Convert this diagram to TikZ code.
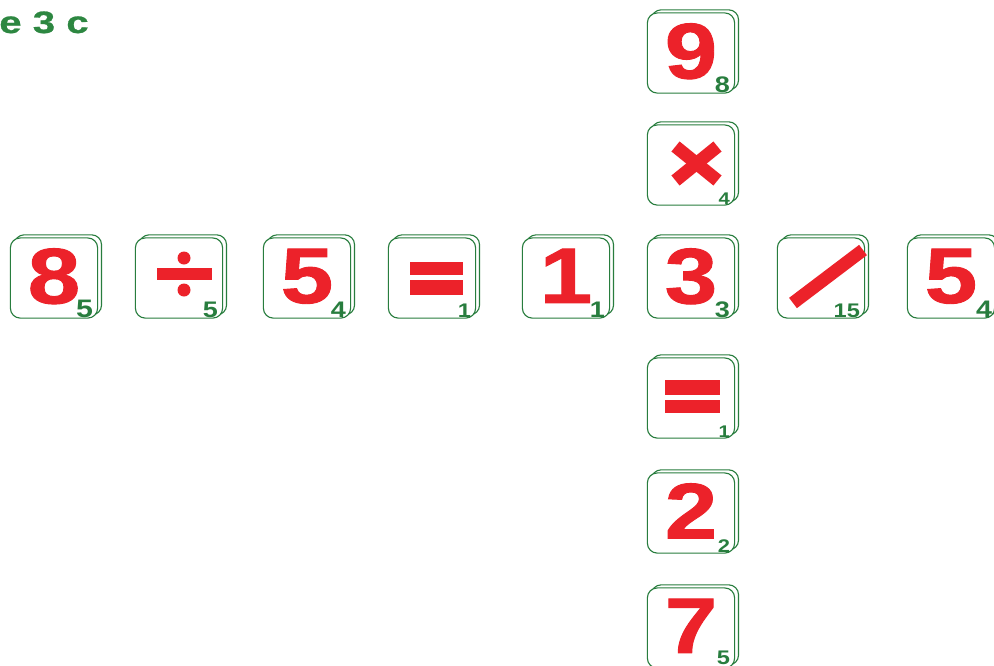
\documentclass[tikz,border=0pt]{standalone}
\usepackage{fontspec}
\setmainfont{Liberation Sans}
\newfontfamily\tilefont{Liberation Sans}[FakeStretch=1.2, FakeBold=1.2]
\newfontfamily\subfont{Liberation Sans}[FakeStretch=1.2]
\newfontfamily\titlefont{Liberation Sans}[FakeStretch=1.3, FakeBold=0.8]
\usetikzlibrary{shadows}

\definecolor{tilered}{RGB}{236,34,42}
\definecolor{tilegreen}{RGB}{40,125,62}
\definecolor{titlegreen}{RGB}{45,135,65}

\begin{document}
\begin{tikzpicture}[
    x=0.025cm, y=-0.025cm,
    tile/.style={draw=tilegreen, line width=0.8pt, fill=white, rounded corners=7pt,
      minimum width=62pt, minimum height=57pt, inner sep=0pt, text=tilered,
      text depth=3pt, font=\tilefont\fontsize{56}{56}\selectfont\bfseries,
      copy shadow={shadow xshift=2.8pt, shadow yshift=2.2pt, draw=tilegreen,
        line width=0.8pt, fill=white}},
    subnum/.style={anchor=south east, inner sep=0pt, text=tilegreen,
      font=\subfont\fontsize{#1}{#1}\selectfont\bfseries},
    subnum/.default=16,
    stroke/.style={draw=tilered, line width=9.2pt}
  ]
  \useasboundingbox[fill=white] (0,0) rectangle (994,665);

  % Title
  \node[anchor=base west, inner sep=0pt, text=titlegreen,
    font=\titlefont\fontsize{22}{22}\selectfont\bfseries] (title) at (-1,33) {e 3 c};

  % Row
  \node[tile] (t8a) at (54,278) {8};
  \node[tile] (tdiv) at (179,278) {};
  \node[tile] (t5a) at (307,278) {5};
  \node[tile] (teqa) at (432,278) {};
  \node[tile] (t1) at (566,278) {1};
  \node[tile] (t3) at (691,278) {3};
  \node[tile] (tslash) at (821,278) {};
  \node[tile] (t5b) at (951,278) {5};

  % Column
  \node[tile] (t9) at (691,53) {9};
  \node[tile] (tmul) at (691,165) {};
  \node[tile] (teqb) at (691,398) {};
  \node[tile] (t2) at (691,513) {2};
  \node[tile] (t7) at (691,628) {7};

  % Symbols
  \fill[tilered] ([shift={(-22,-10)}]tdiv.center) rectangle ([shift={(33,2)}]tdiv.center);
  \fill[tilered] ([shift={(5,-20)}]tdiv.center) circle[radius=6.5];
  \fill[tilered] ([shift={(5,12)}]tdiv.center) circle[radius=6.5];
  \fill[tilered] ([shift={(-22,-16)}]teqa.center) rectangle ([shift={(31,-3)}]teqa.center);
  \fill[tilered] ([shift={(-22,2)}]teqa.center) rectangle ([shift={(31,17)}]teqa.center);
  \fill[tilered] ([shift={(-26,-18)}]teqb.center) rectangle ([shift={(29,-3)}]teqb.center);
  \fill[tilered] ([shift={(-26,2)}]teqb.center) rectangle ([shift={(29,15)}]teqb.center);
  \draw[stroke] ([shift={(-15.5,-18.5)}]tmul.center) -- ([shift={(26.5,15.5)}]tmul.center);
  \draw[stroke] ([shift={(-15.5,15.5)}]tmul.center) -- ([shift={(26.5,-18.5)}]tmul.center);
  \draw[stroke] ([shift={(-28,25)}]tslash.center) -- ([shift={(42,-28)}]tslash.center);

  % Values
  \node[subnum=18] (s8a) at ([xshift=-3.5pt,yshift=0.7pt]t8a.south east) {5};
  \node[subnum] (sdiv) at ([xshift=-3.5pt,yshift=0.7pt]tdiv.south east) {5};
  \node[subnum] (s5a) at ([xshift=-3.5pt,yshift=0.7pt]t5a.south east) {4};
  \node[subnum=14] (seqa) at ([xshift=-3.5pt,yshift=0.7pt]teqa.south east) {1};
  \node[subnum] (s1) at ([xshift=-3.5pt,yshift=0.7pt]t1.south east) {1};
  \node[subnum] (s3) at ([xshift=-3.5pt,yshift=0.7pt]t3.south east) {3};
  \node[subnum=14] (sslash) at ([xshift=-3.5pt,yshift=0.7pt]tslash.south east) {15};
  \node[subnum=17] (s5b) at ([xshift=-2pt,yshift=0.7pt]t5b.south east) {4};
  \node[subnum] (s9) at ([xshift=-3.5pt,yshift=0.7pt]t9.south east) {8};
  \node[subnum=12] (smul) at ([xshift=-3.5pt,yshift=0.7pt]tmul.south east) {4};
  \node[subnum=12] (seqb) at ([xshift=-3.5pt,yshift=0.7pt]teqb.south east) {1};
  \node[subnum=13] (s2) at ([xshift=-3.5pt,yshift=0.7pt]t2.south east) {2};
  \node[subnum=14] (s7) at ([xshift=-3.5pt,yshift=2.5pt]t7.south east) {5};
\end{tikzpicture}
\end{document}
